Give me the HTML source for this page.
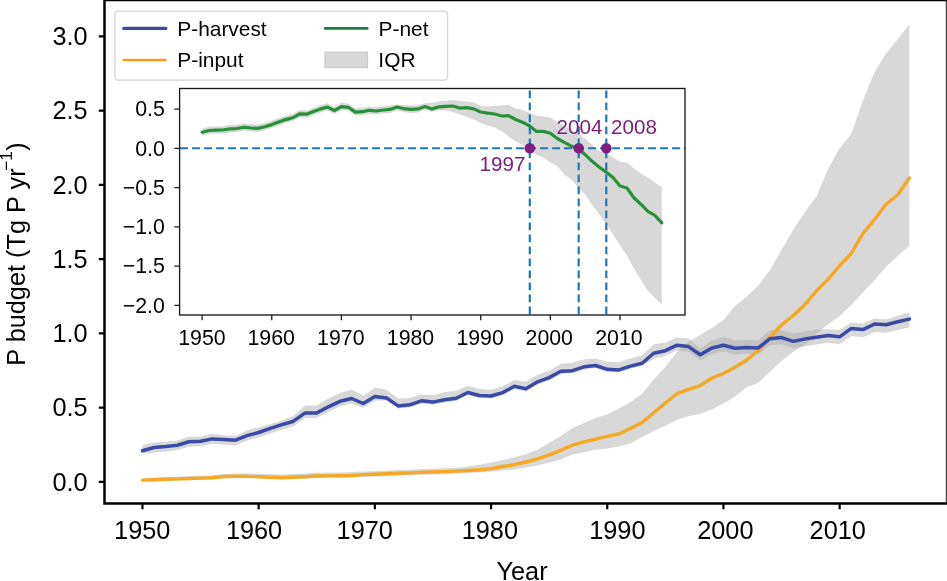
<!DOCTYPE html><html><head><meta charset="utf-8"><style>html,body{margin:0;padding:0;background:#fff;}svg{display:block;will-change:transform;}</style></head><body>
<svg width="947" height="581" viewBox="0 0 947 581" font-family="'Liberation Sans', sans-serif">
<defs><clipPath id="cm"><rect x="104.5" y="0.4" width="843" height="503"/></clipPath><clipPath id="ci"><rect x="179.6" y="88.5" width="505.4" height="226.5"/></clipPath></defs>
<rect width="947" height="581" fill="#fff"/>
<g clip-path="url(#cm)">
<polygon points="142.45,478.10 154.07,477.65 165.69,477.19 177.31,476.74 188.93,476.29 200.55,475.83 212.17,475.48 223.79,474.12 235.41,473.77 247.03,473.42 258.65,473.66 270.27,474.21 281.89,474.56 293.51,474.10 305.13,473.45 316.75,472.70 328.37,472.54 339.99,472.39 351.61,472.04 363.23,471.58 374.85,471.13 386.47,470.68 398.09,470.12 409.71,469.67 421.33,469.11 432.95,468.66 444.57,468.21 456.19,467.65 467.81,466.50 479.43,464.70 491.05,462.40 502.67,460.10 514.29,457.20 525.91,454.30 537.53,449.60 549.15,443.00 560.77,436.00 572.39,428.00 584.01,422.90 595.63,418.10 607.25,414.60 618.87,408.40 630.49,402.20 642.11,393.60 653.73,379.50 665.35,367.00 676.97,352.00 688.59,341.50 700.21,335.00 711.83,328.10 723.45,319.80 735.07,306.00 746.69,296.40 758.31,285.40 769.93,270.20 781.55,249.70 793.17,230.00 804.79,212.00 816.41,196.70 828.03,169.00 839.65,148.30 851.27,133.90 862.89,100.80 874.51,71.90 886.13,53.40 897.75,38.90 909.37,24.50 909.37,245.80 897.75,256.00 886.13,266.40 874.51,280.20 862.89,292.60 851.27,305.00 839.65,316.00 828.03,324.30 816.41,334.00 804.79,344.70 793.17,351.70 781.55,361.00 769.93,371.80 758.31,382.70 746.69,387.30 735.07,396.60 723.45,403.40 711.83,409.40 700.21,413.70 688.59,416.30 676.97,419.70 665.35,425.70 653.73,431.00 642.11,437.00 630.49,443.50 618.87,446.50 607.25,448.40 595.63,449.70 584.01,452.20 572.39,454.60 560.77,459.40 549.15,462.80 537.53,465.30 525.91,467.60 514.29,469.40 502.67,470.50 491.05,471.70 479.43,472.30 467.81,472.90 456.19,473.56 444.57,474.03 432.95,474.39 421.33,474.76 409.71,475.22 398.09,475.59 386.47,476.05 374.85,476.41 363.23,476.78 351.61,477.14 339.99,477.41 328.37,477.47 316.75,477.54 305.13,478.20 293.51,478.76 281.89,479.13 270.27,478.69 258.65,478.06 247.03,477.72 235.41,477.99 223.79,478.25 212.17,479.51 200.55,479.78 188.93,480.14 177.31,480.51 165.69,480.87 154.07,481.24 142.45,481.60" fill="#a9a9a9" fill-opacity="0.45"/>
<polygon points="142.45,445.00 154.07,442.40 165.69,441.80 177.31,440.50 188.93,436.70 200.55,436.70 212.17,433.60 223.79,435.50 235.41,435.90 247.03,430.40 258.65,427.40 270.27,424.00 281.89,420.50 293.51,415.70 305.13,405.40 316.75,405.40 328.37,398.50 339.99,393.00 351.61,389.60 363.23,395.50 374.85,387.70 386.47,389.40 398.09,398.50 409.71,397.90 421.33,394.50 432.95,395.30 444.57,392.20 456.19,390.70 467.81,385.70 479.43,389.00 491.05,389.70 502.67,386.30 514.29,379.90 525.91,381.80 537.53,374.80 549.15,370.70 560.77,363.80 572.39,362.80 584.01,359.30 595.63,358.50 607.25,361.70 618.87,362.30 630.49,358.50 642.11,355.30 653.73,344.30 665.35,342.70 676.97,337.60 688.59,338.60 700.21,348.70 711.83,340.40 723.45,337.00 735.07,340.40 746.69,339.70 758.31,340.40 769.93,330.10 781.55,330.10 793.17,333.20 804.79,331.40 816.41,329.60 828.03,329.20 839.65,329.90 851.27,322.50 862.89,323.50 874.51,318.50 886.13,319.50 897.75,315.80 909.37,312.60 909.37,327.40 897.75,329.96 886.13,332.72 874.51,331.88 862.89,337.34 851.27,336.01 839.65,344.27 828.03,342.83 816.41,344.49 804.79,346.15 793.17,348.21 781.55,344.37 769.93,345.33 758.31,354.39 746.69,353.76 735.07,354.42 723.45,351.28 711.83,353.94 700.21,360.50 688.59,351.80 676.97,350.40 665.35,355.90 653.73,358.40 642.11,365.90 630.49,368.70 618.87,372.50 607.25,371.90 595.63,368.10 584.01,369.40 572.39,373.30 560.77,373.90 549.15,380.20 537.53,384.40 525.91,391.40 514.29,388.90 502.67,395.20 491.05,398.60 479.43,398.10 467.81,395.10 456.19,400.90 444.57,402.40 432.95,404.70 421.33,403.40 409.71,407.40 398.09,408.50 386.47,400.50 374.85,400.80 363.23,407.70 351.61,403.50 339.99,406.30 328.37,411.80 316.75,417.90 305.13,417.90 293.51,426.20 281.89,429.70 270.27,433.40 258.65,437.50 247.03,440.60 235.41,445.20 223.79,444.50 212.17,443.90 200.55,446.20 188.93,446.80 177.31,450.20 165.69,451.50 154.07,452.50 142.45,453.70" fill="#a9a9a9" fill-opacity="0.45"/>
<polyline points="142.45,480.10 154.07,479.70 165.69,479.30 177.31,478.90 188.93,478.50 200.55,478.10 212.17,477.80 223.79,476.50 235.41,476.20 247.03,476.40 258.65,476.70 270.27,477.30 281.89,477.70 293.51,477.30 305.13,476.70 316.75,476.00 328.37,475.90 339.99,475.80 351.61,475.50 363.23,474.60 374.85,474.20 386.47,473.80 398.09,473.30 409.71,472.90 421.33,472.40 432.95,472.00 444.57,471.60 456.19,471.10 467.81,470.50 479.43,469.70 491.05,468.60 502.67,466.50 514.29,464.70 525.91,462.00 537.53,458.90 549.15,454.80 560.77,450.40 572.39,445.20 584.01,441.90 595.63,439.20 607.25,436.30 618.87,434.00 630.49,428.40 642.11,422.40 653.73,412.80 665.35,403.10 676.97,393.70 688.59,389.30 700.21,385.60 711.83,378.00 723.45,373.60 735.07,367.20 746.69,360.00 758.31,350.50 769.93,337.50 781.55,325.00 793.17,315.50 804.79,304.70 816.41,291.00 828.03,279.40 839.65,265.60 851.27,253.40 862.89,233.50 874.51,219.60 886.13,204.20 897.75,194.80 909.37,178.00" fill="none" stroke="#f5a823" stroke-width="3.4" stroke-linejoin="round" stroke-linecap="round"/>
<polyline points="142.45,450.70 154.07,447.50 165.69,446.50 177.31,445.20 188.93,441.80 200.55,441.20 212.17,438.90 223.79,439.50 235.41,440.20 247.03,435.60 258.65,432.50 270.27,428.40 281.89,424.70 293.51,421.20 305.13,412.90 316.75,412.90 328.37,406.80 339.99,401.30 351.61,398.50 363.23,403.50 374.85,396.60 386.47,397.90 398.09,405.90 409.71,404.80 421.33,400.80 432.95,402.10 444.57,399.80 456.19,398.30 467.81,392.50 479.43,395.50 491.05,396.00 502.67,392.60 514.29,386.30 525.91,388.80 537.53,381.80 549.15,377.60 560.77,371.30 572.39,370.70 584.01,366.80 595.63,365.50 607.25,369.30 618.87,369.90 630.49,366.10 642.11,363.30 653.73,353.20 665.35,350.70 676.97,345.20 688.59,346.60 700.21,354.70 711.83,348.00 723.45,345.20 735.07,348.20 746.69,347.40 758.31,347.90 769.93,338.70 781.55,337.60 793.17,341.30 804.79,339.10 816.41,337.30 828.03,335.50 839.65,336.80 851.27,328.40 862.89,329.60 874.51,324.00 886.13,324.70 897.75,321.80 909.37,319.10" fill="none" stroke="#3b4aa7" stroke-width="3.5" stroke-linejoin="round" stroke-linecap="round"/>
</g>
<path d="M947.0,0 V502.2" fill="none" stroke="#444" stroke-width="2.5"/>
<path d="M104.5,0.1 H947.5 M104.5,0.1 V503.4 H947.5" fill="none" stroke="#000" stroke-width="2.5"/>
<rect x="103.25" y="0" width="844" height="504.65" fill="none" stroke="none"/>
<path d="M98.8,481.80H104.5M98.8,407.55H104.5M98.8,333.30H104.5M98.8,259.05H104.5M98.8,184.80H104.5M98.8,110.55H104.5M98.8,36.30H104.5M142.45,503.4V509.3M258.65,503.4V509.3M374.85,503.4V509.3M491.05,503.4V509.3M607.25,503.4V509.3M723.45,503.4V509.3M839.65,503.4V509.3" stroke="#000" stroke-width="2.2" fill="none"/>
<text x="52.42" y="490.55" font-size="25.3" fill="#000">0.0</text>
<text x="52.49" y="416.30" font-size="25.3" fill="#000">0.5</text>
<text x="52.42" y="342.05" font-size="25.3" fill="#000">1.0</text>
<text x="52.49" y="267.80" font-size="25.3" fill="#000">1.5</text>
<text x="52.42" y="193.55" font-size="25.3" fill="#000">2.0</text>
<text x="52.49" y="119.30" font-size="25.3" fill="#000">2.5</text>
<text x="52.42" y="45.05" font-size="25.3" fill="#000">3.0</text>
<text x="114.09" y="539.35" font-size="25.3" fill="#000" >1950</text>
<text x="225.89" y="539.35" font-size="25.3" fill="#000" >1960</text>
<text x="336.59" y="539.35" font-size="25.3" fill="#000" >1970</text>
<text x="461.69" y="539.35" font-size="25.3" fill="#000" >1980</text>
<text x="589.19" y="539.35" font-size="25.3" fill="#000" >1990</text>
<text x="697.22" y="539.35" font-size="25.3" fill="#000" >2000</text>
<text x="809.62" y="539.35" font-size="25.3" fill="#000" >2010</text>
<text x="496.51" y="579.90" font-size="25.3" fill="#000" >Year</text>
<g transform="translate(24.8,363.7) rotate(-90)">
<text x="-2.08" y="0.00" font-size="25.3" fill="#000">P budget (Tg P yr</text>
<text x="193.0" y="-12.4" font-size="17.2">−1</text>
<text x="212.85" y="0.00" font-size="25.3" fill="#000">)</text>
</g>
<rect x="114.9" y="11.1" width="332.7" height="69" rx="3.5" ry="3.5" fill="#fff" stroke="#d3d3d3" stroke-width="1.3"/>
<line x1="123.7" y1="28.4" x2="165.8" y2="28.4" stroke="#3b4aa7" stroke-width="3.1" stroke-linecap="round"/>
<line x1="123.6" y1="60.0" x2="165.7" y2="60.0" stroke="#fa9d17" stroke-width="2.3" stroke-linecap="round"/>
<line x1="325.2" y1="28.4" x2="367.2" y2="28.4" stroke="#1e7d3c" stroke-width="2.7" stroke-linecap="round"/>
<rect x="324.9" y="52.1" width="42.7" height="15.6" fill="#d8d8d8" stroke="#c8c8c8" stroke-width="1"/>
<text x="177.29" y="35.60" font-size="20.9" fill="#000">P-harvest</text>
<text x="177.29" y="66.50" font-size="20.9" fill="#000">P-input</text>
<text x="378.59" y="35.60" font-size="20.9" fill="#000">P-net</text>
<text x="378.37" y="66.50" font-size="20.9" fill="#000">IQR</text>
<rect x="179.6" y="88.5" width="505.4" height="226.5" fill="#fff"/>
<g clip-path="url(#ci)">
<polygon points="202.10,128.40 209.06,126.70 216.03,126.40 223.00,126.20 229.96,125.10 236.93,124.70 243.89,123.40 250.85,124.20 257.82,124.60 264.78,122.90 271.75,120.80 278.71,118.30 285.68,115.80 292.64,114.00 299.61,110.10 306.57,110.40 313.54,107.70 320.50,105.10 327.47,103.30 334.44,106.70 341.40,102.80 348.37,103.50 355.33,108.30 362.29,107.90 369.26,106.50 376.23,107.20 383.19,106.20 390.15,105.60 397.12,104.40 404.08,105.00 411.05,105.50 418.01,105.00 424.98,103.20 431.94,103.00 438.91,101.50 445.88,101.00 452.84,100.10 459.80,101.00 466.77,101.50 473.74,102.20 480.70,106.00 487.66,106.40 494.63,106.00 501.60,105.50 508.56,104.80 515.52,108.40 522.49,110.00 529.46,112.80 536.42,115.70 543.38,116.60 550.35,117.60 557.31,122.30 564.28,126.10 571.25,129.90 578.21,133.70 585.17,138.50 592.14,145.10 599.11,150.80 606.07,153.50 613.03,157.50 620.00,161.50 626.97,162.50 633.93,168.50 640.89,173.50 647.86,177.60 654.82,182.50 661.79,187.00 661.79,304.30 654.82,298.10 647.86,290.40 640.89,280.00 633.93,268.50 626.97,255.50 620.00,245.40 613.03,234.50 606.07,223.70 599.11,214.00 592.14,205.10 585.17,194.50 578.21,187.50 571.25,179.30 564.28,174.60 557.31,166.00 550.35,162.50 543.38,157.60 536.42,154.90 529.46,148.90 522.49,145.10 515.52,141.30 508.56,136.60 501.60,131.00 494.63,127.50 487.66,125.50 480.70,123.00 473.74,119.60 466.77,117.00 459.80,114.50 452.84,112.00 445.88,110.30 438.91,110.50 431.94,112.00 424.98,109.50 418.01,112.40 411.05,112.90 404.08,112.20 397.12,110.50 390.15,112.90 383.19,113.50 376.23,114.50 369.26,113.80 362.29,115.20 355.33,115.60 348.37,110.80 341.40,110.10 334.44,114.00 327.47,110.60 320.50,112.40 313.54,115.00 306.57,117.70 299.61,117.40 292.64,121.30 285.68,123.10 278.71,125.60 271.75,128.10 264.78,130.20 257.82,131.90 250.85,131.50 243.89,130.70 236.93,132.00 229.96,132.40 223.00,133.50 216.03,133.70 209.06,134.00 202.10,135.70" fill="#a9a9a9" fill-opacity="0.45"/>
<polyline points="202.10,132.20 209.06,130.50 216.03,130.20 223.00,130.00 229.96,128.90 236.93,128.50 243.89,127.20 250.85,128.00 257.82,128.40 264.78,126.70 271.75,124.60 278.71,122.10 285.68,119.60 292.64,117.80 299.61,113.90 306.57,114.20 313.54,111.50 320.50,108.90 327.47,107.10 334.44,110.50 341.40,106.60 348.37,107.30 355.33,112.10 362.29,111.70 369.26,110.30 376.23,111.00 383.19,110.00 390.15,109.40 397.12,107.00 404.08,108.70 411.05,109.40 418.01,108.90 424.98,106.60 431.94,108.90 438.91,106.90 445.88,106.40 452.84,106.00 459.80,108.10 466.77,107.70 473.74,108.90 480.70,112.00 487.66,113.10 494.63,114.00 501.60,116.00 508.56,115.70 515.52,119.50 522.49,122.30 529.46,125.70 536.42,131.40 543.38,131.40 550.35,133.30 557.31,138.50 564.28,142.30 571.25,146.10 578.21,148.90 585.17,154.60 592.14,161.30 599.11,167.00 606.07,172.00 613.03,177.40 620.00,186.00 626.97,188.00 633.93,197.80 640.89,204.20 647.86,211.30 654.82,215.30 661.79,222.80" fill="none" stroke="#28913a" stroke-width="3.2" stroke-linejoin="round" stroke-linecap="round"/>
<line x1="180.1" y1="148.3" x2="685" y2="148.3" stroke="#1f77b4" stroke-width="2" stroke-dasharray="7.9 4.1"/>
<line x1="529.8" y1="314.3" x2="529.8" y2="88.5" stroke="#1f77b4" stroke-width="2.2" stroke-dasharray="7.9 4.1"/>
<line x1="578.7" y1="314.3" x2="578.7" y2="88.5" stroke="#1f77b4" stroke-width="2.2" stroke-dasharray="7.9 4.1"/>
<line x1="606.3" y1="314.3" x2="606.3" y2="88.5" stroke="#1f77b4" stroke-width="2.2" stroke-dasharray="7.9 4.1"/>
<circle cx="529.8" cy="148.3" r="5.3" fill="#7e1f80"/>
<circle cx="578.7" cy="148.3" r="5.3" fill="#7e1f80"/>
<circle cx="606.3" cy="148.3" r="5.3" fill="#7e1f80"/>
</g>
<text x="479.53" y="171.20" font-size="20.6" fill="#7e1f80">1997</text>
<text x="556.56" y="134.10" font-size="20.6" fill="#7e1f80">2004</text>
<text x="611.06" y="134.10" font-size="20.6" fill="#7e1f80">2008</text>
<rect x="179.6" y="88.5" width="505.4" height="226.5" fill="none" stroke="#1a1a1a" stroke-width="1.35"/>
<path d="M174.4,109.03H179.6M174.4,148.30H179.6M174.4,187.58H179.6M174.4,226.85H179.6M174.4,266.12H179.6M174.4,305.40H179.6M202.10,315V320.2M271.75,315V320.2M341.40,315V320.2M411.05,315V320.2M480.70,315V320.2M550.35,315V320.2M620.00,315V320.2" stroke="#1a1a1a" stroke-width="1.3" fill="none"/>
<text x="135.28" y="116.23" font-size="21.3" fill="#000">0.5</text>
<text x="135.22" y="155.50" font-size="21.3" fill="#000">0.0</text>
<text x="122.85" y="194.78" font-size="21.3" fill="#000">−0.5</text>
<text x="122.78" y="234.05" font-size="21.3" fill="#000">−1.0</text>
<text x="122.85" y="273.32" font-size="21.3" fill="#000">−1.5</text>
<text x="122.78" y="312.60" font-size="21.3" fill="#000">−2.0</text>
<text x="178.21" y="345.00" font-size="21.3" fill="#000" >1950</text>
<text x="247.51" y="345.00" font-size="21.3" fill="#000" >1960</text>
<text x="317.11" y="345.00" font-size="21.3" fill="#000" >1970</text>
<text x="386.81" y="345.00" font-size="21.3" fill="#000" >1980</text>
<text x="456.41" y="345.00" font-size="21.3" fill="#000" >1990</text>
<text x="525.59" y="345.00" font-size="21.3" fill="#000" >2000</text>
<text x="595.19" y="345.00" font-size="21.3" fill="#000" >2010</text>
</svg></body></html>
